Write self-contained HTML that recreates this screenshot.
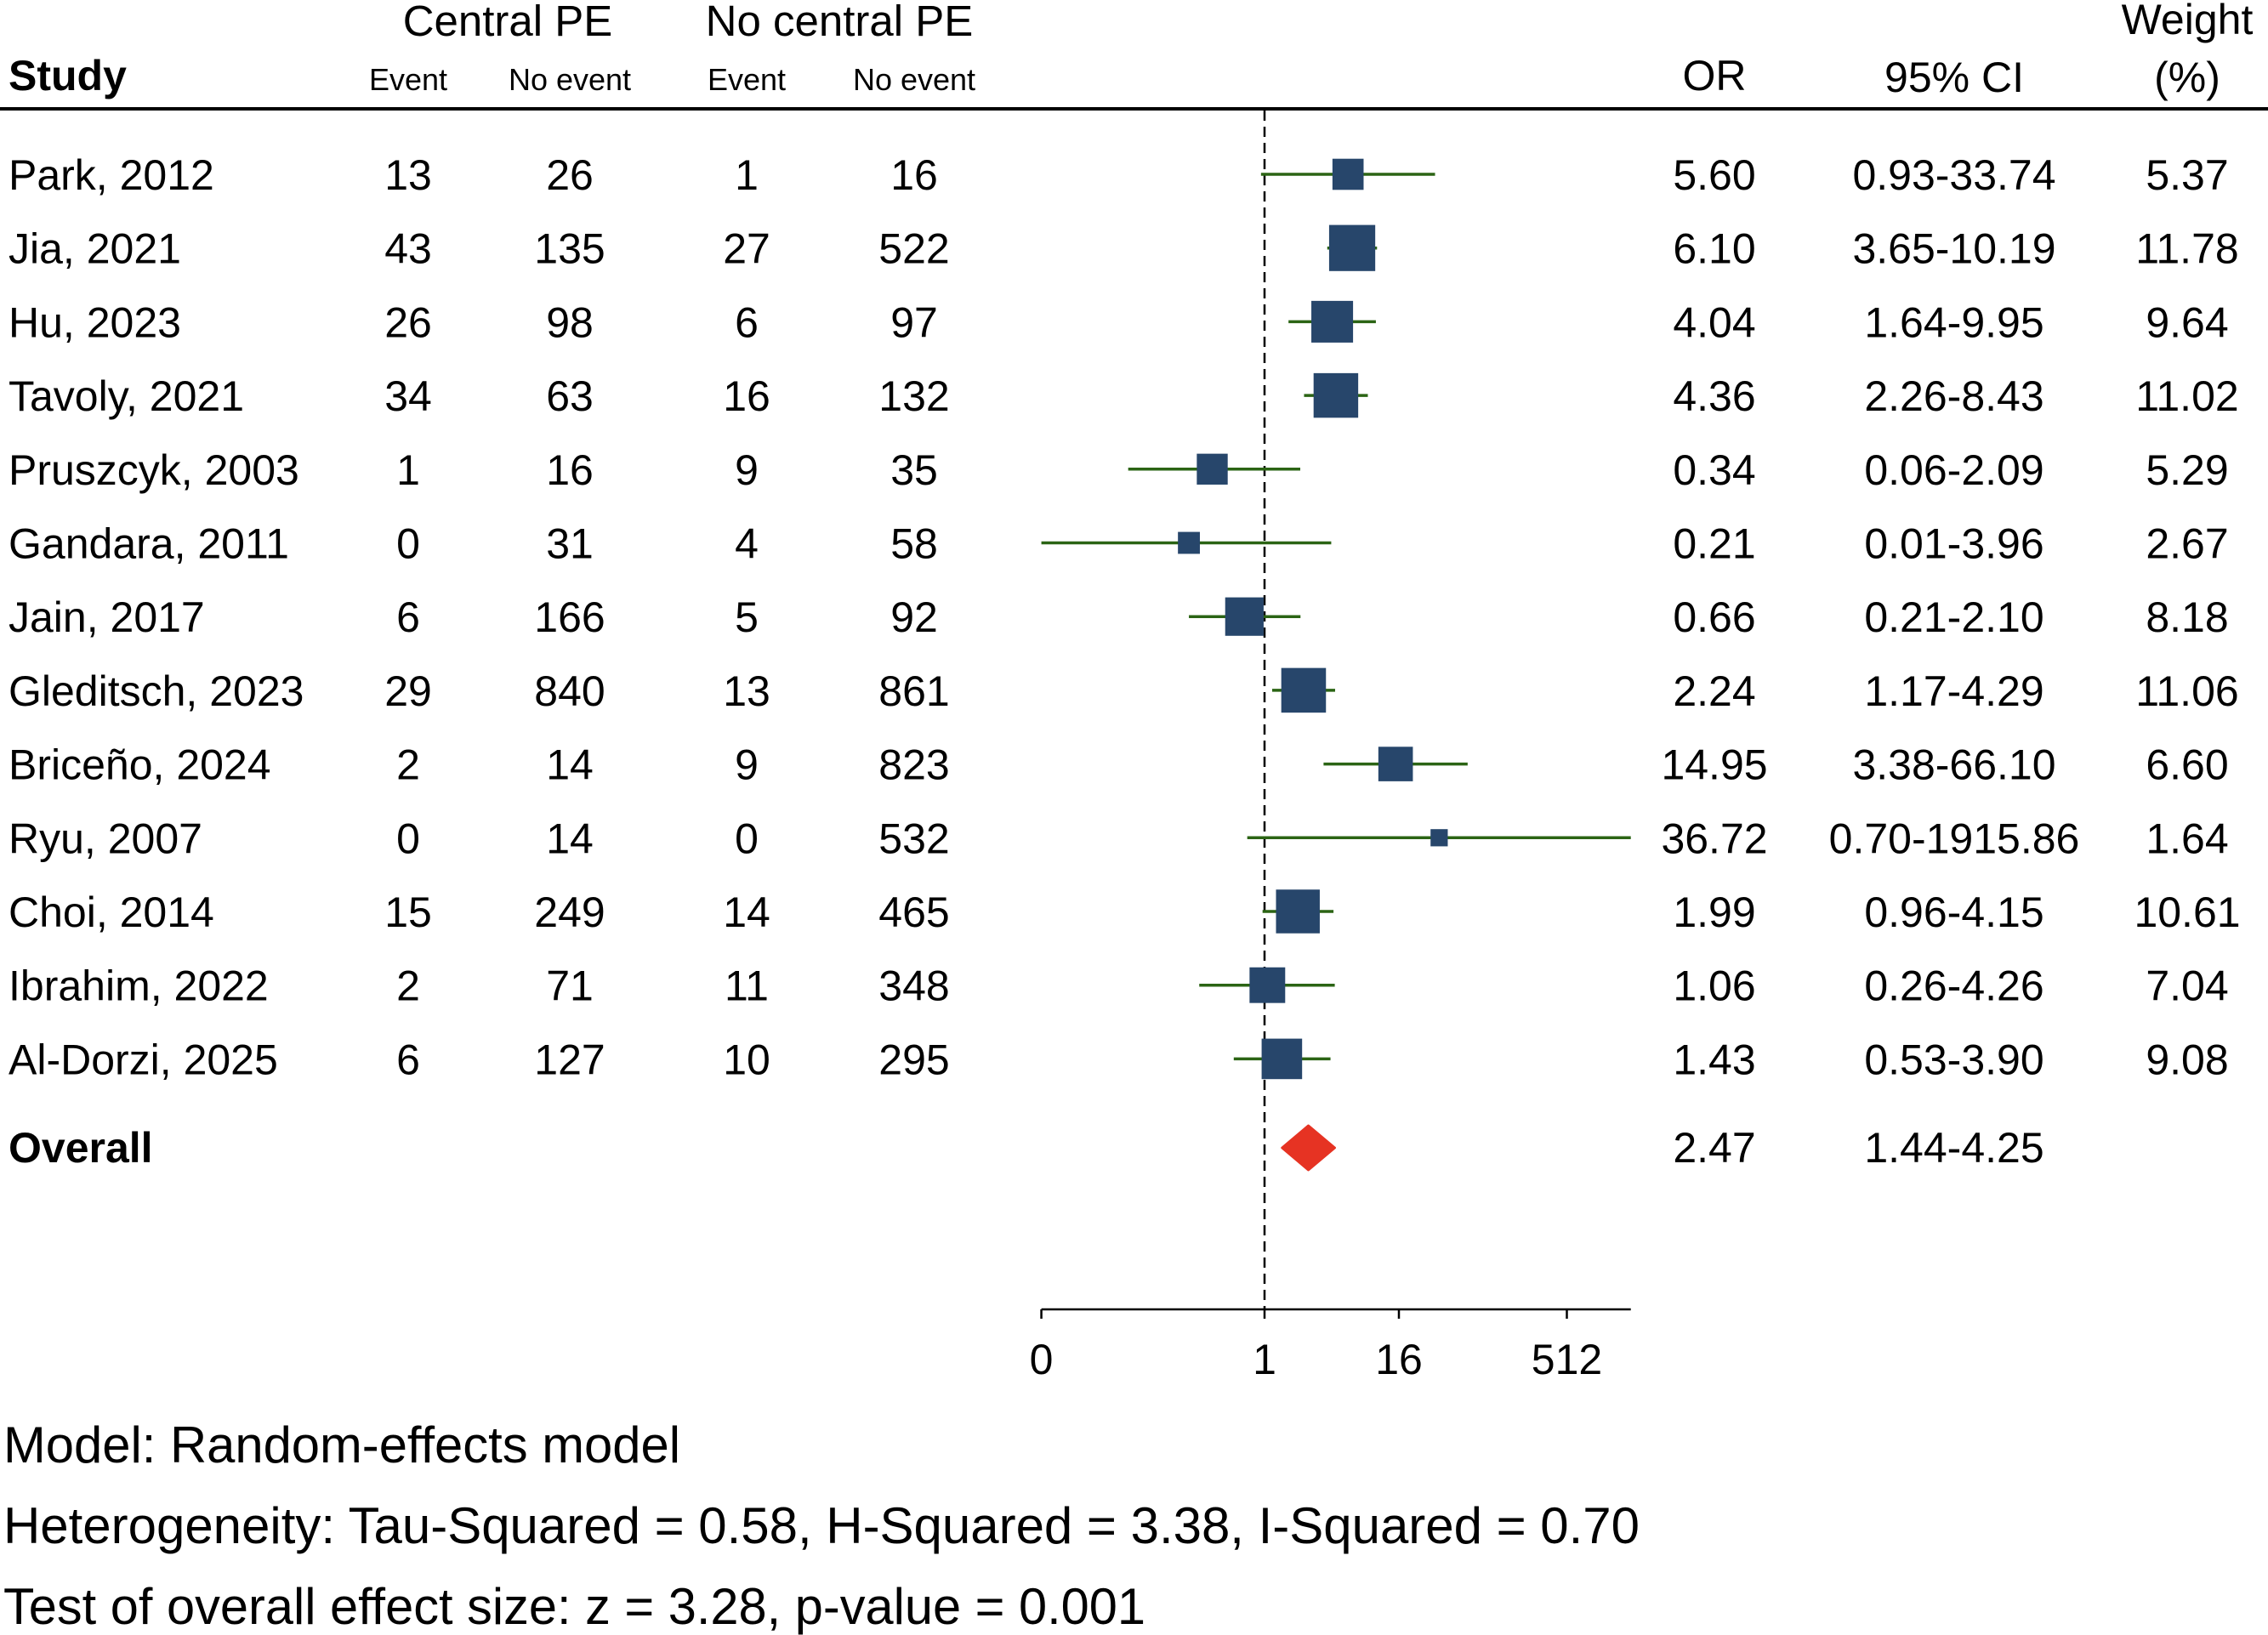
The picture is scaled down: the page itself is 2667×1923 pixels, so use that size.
<!DOCTYPE html>
<html><head><meta charset="utf-8"><style>
html,body{margin:0;padding:0;background:#fff;}
svg{display:block;font-family:"Liberation Sans",Arial,sans-serif;}
</style></head><body>
<svg id="chart" width="2667" height="1923" viewBox="0 0 2667 1923" xmlns="http://www.w3.org/2000/svg">
<g fill="#000">
<text x="597" y="42" font-size="51" text-anchor="middle">Central PE</text>
<text x="987" y="42" font-size="51" text-anchor="middle">No central PE</text>
<text x="10" y="106" font-size="50" font-weight="bold">Study</text>
<text x="480" y="106" font-size="36" text-anchor="middle">Event</text>
<text x="670" y="106" font-size="36" text-anchor="middle">No event</text>
<text x="878" y="106" font-size="36" text-anchor="middle">Event</text>
<text x="1075" y="106" font-size="36" text-anchor="middle">No event</text>
<text x="2016" y="106" font-size="50" text-anchor="middle">OR</text>
<text x="2298" y="108" font-size="50" text-anchor="middle">95% CI</text>
<text x="2572" y="40" font-size="50" text-anchor="middle">Weight</text>
<text x="2572" y="108" font-size="50" text-anchor="middle">(%)</text>
<rect x="0" y="126" width="2667" height="4" fill="#000"/>
</g>
<g id="rows"></g>
<g id="plot"></g>
<g font-size="60" fill="#000">
<text x="4" y="1720" textLength="796" lengthAdjust="spacingAndGlyphs">Model: Random-effects model</text>
<text x="4" y="1815" textLength="1924" lengthAdjust="spacingAndGlyphs">Heterogeneity: Tau-Squared = 0.58, H-Squared = 3.38, I-Squared = 0.70</text>
<text x="4" y="1910" textLength="1343" lengthAdjust="spacingAndGlyphs">Test of overall effect size: z = 3.28, p-value = 0.001</text>
</g>
</svg>
<script>
const studies = ["Park, 2012","Jia, 2021","Hu, 2023","Tavoly, 2021","Pruszcyk, 2003","Gandara, 2011","Jain, 2017","Gleditsch, 2023","Briceño, 2024","Ryu, 2007","Choi, 2014","Ibrahim, 2022","Al-Dorzi, 2025"];
const centralEvent = [13,43,26,34,1,0,6,29,2,0,15,2,6];
const centralNoEvent = [26,135,98,63,16,31,166,840,14,14,249,71,127];
const otherEvent = [1,27,6,16,9,4,5,13,9,0,14,11,10];
const otherNoEvent = [16,522,97,132,35,58,92,861,823,532,465,348,295];
const orValues = [5.60,6.10,4.04,4.36,0.34,0.21,0.66,2.24,14.95,36.72,1.99,1.06,1.43];
const ciLower = [0.93,3.65,1.64,2.26,0.06,0.01,0.21,1.17,3.38,0.70,0.96,0.26,0.53];
const ciUpper = [33.74,10.19,9.95,8.43,2.09,3.96,2.10,4.29,66.10,1915.86,4.15,4.26,3.90];
const weights = [5.37,11.78,9.64,11.02,5.29,2.67,8.18,11.06,6.60,1.64,10.61,7.04,9.08];
const overallOR = 2.47, overallLower = 1.44, overallUpper = 4.25;
const tickValues = [0.01,1,16,512];
const tickLabels = ["0","1","16","512"];

const NS = "http://www.w3.org/2000/svg";
const X0 = 1487, PX = 39.5;
const xScale = v => X0 + Math.log2(v) * PX;
const rowY = i => 205 + i * 86.7;
function mk(tag, attrs, parent, txt){
  const e = document.createElementNS(NS, tag);
  for (const k in attrs) e.setAttribute(k, attrs[k]);
  if (txt !== undefined) e.textContent = txt;
  parent.appendChild(e); return e;
}
const rows = document.getElementById('rows');
const plot = document.getElementById('plot');

const ref = mk('line',{x1:X0,x2:X0,y1:130,y2:1540,stroke:'#000','stroke-width':2.5,'stroke-dasharray':'12 7'},plot);



studies.forEach((s,i)=>{
  const by = rowY(i) + 18;
  const cols = [[s,10,'start'],[centralEvent[i],480,'middle'],[centralNoEvent[i],670,'middle'],[otherEvent[i],878,'middle'],[otherNoEvent[i],1075,'middle'],[orValues[i].toFixed(2),2016,'middle'],[ciLower[i].toFixed(2)+'-'+ciUpper[i].toFixed(2),2298,'middle'],[weights[i].toFixed(2),2572,'middle']];
  const names = ['study-name','central-event','central-no-event','other-event','other-no-event','or-value','ci-value','weight-value'];
  cols.forEach((c,j)=>{
    const t = mk('text',{x:c[1],y:by,'font-size':50,'text-anchor':c[2],fill:'#000'},rows,String(c[0]));
    
    
  });
  const cy = rowY(i);
  const ln = mk('line',{x1:xScale(ciLower[i]),x2:xScale(ciUpper[i]),y1:cy,y2:cy,stroke:'#2b6414','stroke-width':3.5},plot);
  
  
  const w = 15.8*Math.sqrt(weights[i]), h = w;
  const b = mk('rect',{x:xScale(orValues[i])-w/2,y:cy-h/2,width:w,height:h,fill:'#27466b'},plot);
  
  
});

const oy = 1350, oby = 1367;
[['Overall',10,'start','overall-label'],[overallOR.toFixed(2),2016,'middle','overall-or'],[overallLower.toFixed(2)+'-'+overallUpper.toFixed(2),2298,'middle','overall-ci']].forEach(c=>{
  const t = mk('text',{x:c[1],y:oby,'font-size':50,'text-anchor':c[2],fill:'#000','font-weight':c[3]==='overall-label'?'bold':'normal'},rows,c[0]);
  
  
});
const xl = xScale(overallLower), xr = xScale(overallUpper), xm = xScale(overallOR);
const d = mk('polygon',{points:`${xl},${oy} ${xm},${oy-26} ${xr},${oy} ${xm},${oy+26}`,fill:'#e63323','stroke':'#e63323','stroke-width':3,'stroke-linejoin':'round'},plot);



const axMax = Math.max(...ciUpper);
const ax = mk('line',{x1:xScale(tickValues[0]),x2:xScale(axMax),y1:1540,y2:1540,stroke:'#000','stroke-width':2.5},plot);


tickValues.forEach((v,i)=>{
  const x = xScale(v);
  const tk = mk('line',{x1:x,x2:x,y1:1540,y2:1551,stroke:'#000','stroke-width':2.5},plot);
  
  
  const tl = mk('text',{x:x,y:1616,'font-size':50,'text-anchor':'middle',fill:'#000'},plot,tickLabels[i]);
  
  
});
</script>
</body></html>
